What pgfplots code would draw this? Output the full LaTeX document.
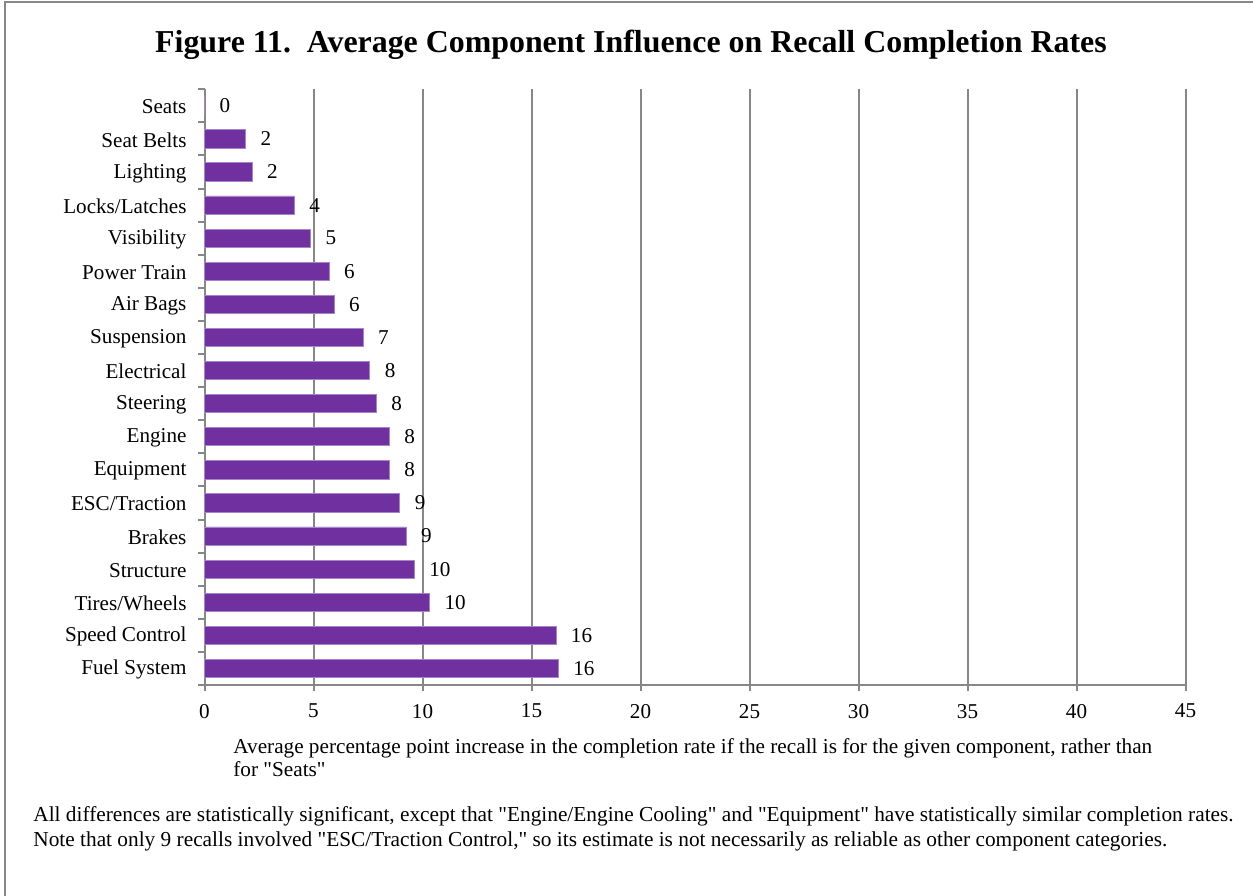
\documentclass[border=0pt]{standalone}
\usepackage{pgfplots}
\pgfplotsset{compat=1.18}
\usepackage{fontspec}
\setmainfont{Liberation Serif}

\definecolor{barpurple}{HTML}{7030A0}
\definecolor{baredge}{HTML}{A585C8}
\definecolor{gridgray}{HTML}{878787}
\newcommand{\dq}{\textquotedbl}

% Average percentage-point increase in completion rate, relative to "Seats"
\pgfplotstableread{
y  val
0  0
1  1.89
2  2.18
3  4.12
4  4.87
5  5.71
6  5.94
7  7.27
8  7.58
9  7.88
10 8.48
11 8.48
12 8.96
13 9.25
14 9.62
15 10.32
16 16.12
17 16.23
}\influence

\begin{document}
\begin{tikzpicture}
\useasboundingbox (0,0) rectangle (626.5bp,-448bp);
% outer frame
\draw[gridgray, line width=1bp] (2.5bp,-448bp) -- (2.5bp,-1bp) -- (626.5bp,-1bp);

\node[font=\fontsize{16}{19}\selectfont\bfseries] at (315.5bp,-22.5bp)
  {Figure 11.\ \ Average Component Influence on Recall Completion Rates};

\begin{axis}[
  at={(102.25bp,-342.5bp)}, anchor=south west,
  scale only axis, width=490.5bp, height=297.9bp,
  xbar, bar width=0.55,
  xmin=0, xmax=45, ymin=-0.5, ymax=17.5, y dir=reverse,
  xtick={0,5,...,45},
  ytick={0,...,17},
  yticklabels={Seats, Seat Belts, Lighting, Locks/Latches, Visibility,
    Power Train, Air Bags, Suspension, Electrical, Steering, Engine,
    Equipment, ESC/Traction, Brakes, Structure, Tires/Wheels,
    Speed Control, Fuel System},
  minor ytick={-0.5,0.5,...,17.5},
  axis x line*=bottom, axis y line*=left,
  tick align=outside,
  xmajorgrids,
  major grid style={gridgray, line width=1bp},
  axis line style={gridgray, line width=1bp},
  major x tick style={gridgray, line width=1bp},
  major y tick style={draw=none},
  minor y tick style={gridgray, line width=1bp},
  major tick length=3bp, minor tick length=3bp,
  /pgf/number format/assume math mode=true,
  tick label style={font=\fontsize{10.6}{12}\selectfont, black},
  xticklabel style={yshift=-3bp},
  yticklabel style={xshift=-2.5bp, yshift=-0.5bp},
  point meta=x,
  nodes near coords={\pgfmathprintnumber[fixed,precision=0]{\pgfplotspointmeta}},
  every node near coord/.append style={anchor=west, xshift=4bp,
    font=\fontsize{10.6}{12}\selectfont, black},
  clip=false,
]
\addplot[fill=barpurple, draw=baredge, line width=0.4bp] table[x=val, y=y] {\influence};
\end{axis}

\node[anchor=north west, align=left, inner sep=0pt, font=\fontsize{10.65}{11.5}\selectfont]
  at (116.5bp,-369bp)
  {Average percentage point increase in the completion rate if the recall is for the given component, rather than\\
   for \dq Seats\dq};

\node[anchor=north west, align=left, inner sep=0pt, font=\fontsize{10.7}{12.5}\selectfont]
  at (16.5bp,-403bp)
  {All differences are statistically significant, except that \dq Engine/Engine Cooling\dq{} and \dq Equipment\dq{} have statistically similar completion rates.\\
   Note that only 9 recalls involved \dq ESC/Traction Control,\dq{} so its estimate is not necessarily as reliable as other component categories.};
\end{tikzpicture}
\end{document}
